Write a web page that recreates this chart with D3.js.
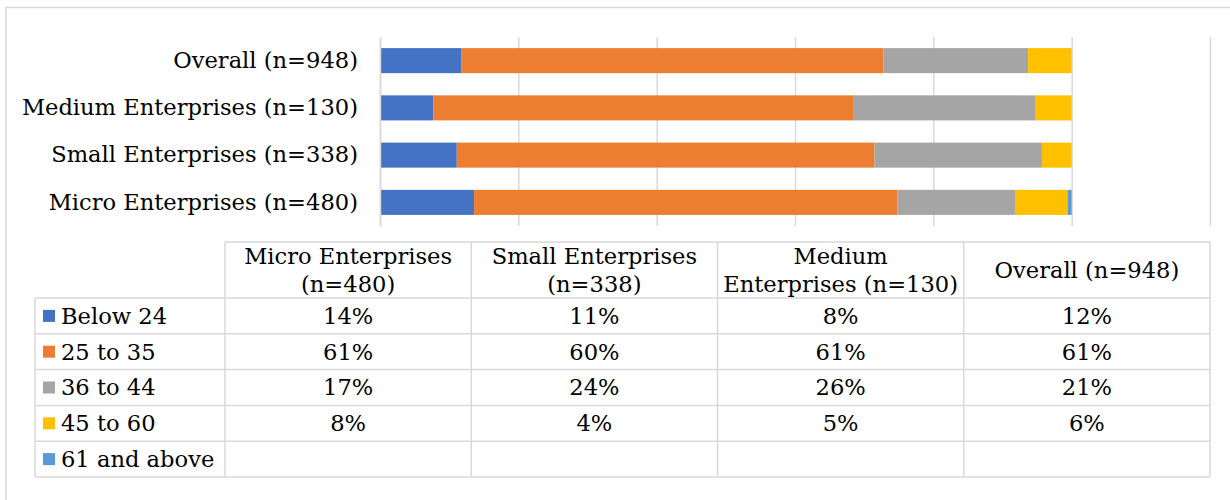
<!DOCTYPE html>
<html>
<head>
<meta charset="utf-8">
<script src="https://cdn.jsdelivr.net/npm/d3@7"></script>
<style>
  html, body { margin: 0; padding: 0; background: #fff; }
  svg { display: block; }
  text { font-family: "DejaVu Serif", "Liberation Serif", serif; fill: #000; }
</style>
</head>
<body>
<svg id="chart" width="1230" height="500"></svg>
<script>
// Enterprise groups (table column order) and their age-group shares
const categories = ["Micro Enterprises (n=480)", "Small Enterprises (n=338)", "Medium Enterprises (n=130)", "Overall (n=948)"];
const headerLines = [["Micro Enterprises", "(n=480)"], ["Small Enterprises", "(n=338)"], ["Medium", "Enterprises (n=130)"], ["Overall (n=948)"]];
const ageGroups = ["Below 24", "25 to 35", "36 to 44", "45 to 60", "61 and above"];
const below24 = [0.136, 0.111, 0.077, 0.118];
const age25to35 = [0.612, 0.604, 0.608, 0.610];
const age36to44 = [0.170, 0.242, 0.262, 0.209];
const age45to60 = [0.076, 0.043, 0.053, 0.063];
const age61plus = [0.006, 0, 0, 0];
const gridTicks = [0, 0.2, 0.4, 0.6, 0.8, 1.0, 1.2];
const colors = ["#4472C4", "#ED7D31", "#A5A5A5", "#FFC000", "#5B9BD5"];

const seriesValues = [below24, age25to35, age36to44, age45to60, age61plus];
const rows = categories.map((c, i) => {
  const r = { category: c };
  ageGroups.forEach((g, k) => { r[g] = seriesValues[k][i]; });
  return r;
});

const svg = d3.select("#chart");
const gridColor = "#D9D9D9";
const fontSize = 22.6;

// outer chart frame
svg.append("rect")
  .attr("x", 6).attr("y", 7.5)
  .attr("width", 1240).attr("height", 510)
  .attr("fill", "none").attr("stroke", gridColor).attr("stroke-width", 1.5);

const x = d3.scaleLinear().domain([0, 1.2]).range([380, 1210]);
const barOrder = categories.slice().reverse();
const y = d3.scaleBand().domain(barOrder).range([37, 226]).paddingInner(0.47).paddingOuter(0.235);

// vertical gridlines
const xAxis = d3.axisBottom(x).tickValues(gridTicks).tickSize(-(226 - 37)).tickFormat("");
const gx = svg.append("g").attr("transform", "translate(0,226)").call(xAxis);
gx.select(".domain").remove();
gx.selectAll(".tick line").attr("stroke", gridColor).attr("stroke-width", 1.5);

// stacked bars
const stack = d3.stack().keys(ageGroups);
const stacked = stack(rows);
svg.append("g").selectAll("g")
  .data(stacked)
  .join("g")
  .attr("fill", (d, i) => colors[i])
  .selectAll("rect")
  .data(d => d)
  .join("rect")
  .attr("x", d => x(d[0]))
  .attr("y", d => y(d.data.category))
  .attr("width", d => Math.max(0, x(d[1]) - x(d[0])))
  .attr("height", y.bandwidth());

// category axis labels
const yAxis = d3.axisLeft(y).tickSize(0).tickPadding(22);
const gy = svg.append("g").attr("transform", "translate(380,0)").call(yAxis);
gy.select(".domain").attr("stroke", gridColor).attr("stroke-width", 1.5);
gy.selectAll(".tick text")
  .style("font-family", '"DejaVu Serif", "Liberation Serif", serif')
  .style("font-size", fontSize + "px")
  .attr("fill", "#000");

// data table
const tableTop = 242, headerBottom = 298, tableBottom = 477;
const legendLeft = 35, colLeft = 225, tableRight = 1210;
const col = d3.scaleBand().domain(categories).range([colLeft, tableRight]);
const row = d3.scaleBand().domain(ageGroups).range([headerBottom, tableBottom]);
const tbl = svg.append("g");
const lineStyle = sel => sel.attr("stroke", gridColor).attr("stroke-width", 1.5);

// horizontal rules
tbl.append("line").attr("x1", colLeft).attr("x2", tableRight).attr("y1", tableTop).attr("y2", tableTop).call(lineStyle);
tbl.selectAll("line.hr").data(ageGroups.concat(["end"])).join("line").attr("class", "hr")
  .attr("x1", legendLeft).attr("x2", tableRight)
  .attr("y1", (d, i) => headerBottom + i * row.step())
  .attr("y2", (d, i) => headerBottom + i * row.step())
  .call(lineStyle);
// vertical rules
tbl.append("line").attr("x1", legendLeft).attr("x2", legendLeft).attr("y1", headerBottom).attr("y2", tableBottom).call(lineStyle);
tbl.selectAll("line.vr").data(categories.concat(["end"])).join("line").attr("class", "vr")
  .attr("x1", (d, i) => colLeft + i * col.step())
  .attr("x2", (d, i) => colLeft + i * col.step())
  .attr("y1", tableTop).attr("y2", tableBottom)
  .call(lineStyle);

// column headers
const hdr = tbl.selectAll("text.hdr").data(categories).join("text").attr("class", "hdr")
  .attr("text-anchor", "middle")
  .attr("font-size", fontSize)
  .attr("x", d => col(d) + col.bandwidth() / 2);
hdr.each(function (d, i) {
  const lines = headerLines[i];
  const lh = 28.5;
  const mid = (tableTop + headerBottom) / 2;
  d3.select(this).selectAll("tspan").data(lines).join("tspan")
    .attr("x", col(d) + col.bandwidth() / 2)
    .attr("y", (l, k) => mid + (k - (lines.length - 1) / 2) * lh)
    .attr("dy", "0.35em")
    .text(l => l);
});

// row legend keys and labels
const legend = tbl.selectAll("g.leg").data(ageGroups).join("g").attr("class", "leg")
  .attr("transform", d => `translate(0,${row(d) + row.bandwidth() / 2})`);
legend.append("rect").attr("x", 43).attr("y", -6).attr("width", 12).attr("height", 12)
  .attr("fill", (d, i) => colors[i]);
legend.append("text").attr("x", 61).attr("dy", "0.35em").attr("font-size", fontSize).text(d => d);

// cell values
const pct = d3.format(".0%");
ageGroups.forEach((g, k) => {
  tbl.selectAll(null).data(categories).join("text")
    .attr("text-anchor", "middle")
    .attr("font-size", fontSize)
    .attr("x", d => col(d) + col.bandwidth() / 2)
    .attr("y", row(g) + row.bandwidth() / 2)
    .attr("dy", "0.35em")
    .text((d, i) => seriesValues[k][i] >= 0.01 ? pct(seriesValues[k][i]) : "");
});
</script>
</body>
</html>
